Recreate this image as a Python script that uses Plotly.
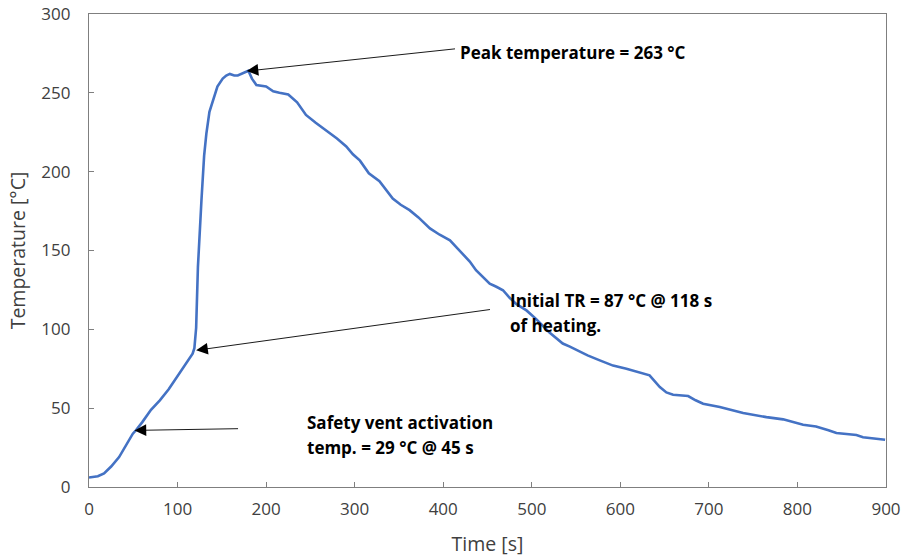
import plotly.graph_objects as go

# Time [s] and Temperature [°C]
time_s = [0, 10, 17, 25, 34, 42, 49.5, 53, 60, 70, 80, 90, 102, 110, 117, 119,
          121, 123, 125, 127, 130, 132.5, 136, 140, 145, 151, 155, 159, 164, 168,
          174, 180, 184, 189, 200, 208, 215, 225, 235, 245, 256, 268, 280, 290.5,
          298, 306, 316, 328, 336, 343, 352, 362, 372, 385, 396, 407.6, 415, 422,
          430, 437, 445, 452.5, 460, 467.5, 475, 482.7, 494, 505, 520, 535, 543,
          550, 563, 576.8, 591.8, 606.9, 620, 633, 644.6, 652, 659.6, 676.6, 685,
          693.5, 712.3, 738.7, 765, 783.8, 806.4, 821, 835, 844, 866.6, 874, 899]
temp_c = [6, 6.8, 8.6, 13, 19, 27, 33.8, 36, 41, 49, 55, 62, 72, 78, 84.6, 88,
          101, 139.5, 165, 182, 210, 224, 238, 245, 254, 259, 261, 262, 261, 261,
          262.5, 264, 259, 255, 254, 251, 250, 249, 244, 236, 231, 226, 221, 216,
          211, 207, 199, 194, 188, 183, 179, 175.6, 171, 164, 160, 156.5, 152, 148,
          143, 137.5, 133, 129, 127, 124.8, 120, 116, 112, 106.5, 98, 91, 89,
          87, 83.5, 80.3, 77, 75, 73, 70.8, 63.4, 60, 58.5, 57.7, 55,
          52.8, 50.7, 46.9, 44.3, 42.9, 39.5, 38.4, 36, 34.2, 33, 31.6, 30]

x_ticks = [0, 100, 200, 300, 400, 500, 600, 700, 800, 900]
y_ticks = [0, 50, 100, 150, 200, 250, 300]

# annotation: (tip_x, tip_y, tail_x, tail_y)
arrows = [
    (178, 263.8, 415, 278),
    (121, 86.7, 454.5, 112.7),
    (51.4, 35.9, 170, 37),
]
# text lines: (x_left, y_center, text)
labels = [
    (416.4, 275.9, "Peak temperature = 263 °C"),
    (472.9, 118.5, "Initial TR = 87 °C @ 118 s"),
    (472.9, 102.5, "of heating."),
    (243.5, 41.1, "Safety vent activation"),
    (243.5, 25.2, "temp. = 29 °C @ 45 s"),
]

FONT = "Open Sans"

fig = go.Figure()
fig.add_trace(go.Scatter(x=time_s, y=temp_c, mode="lines",
                         line=dict(color="#4472C4", width=2.6),
                         showlegend=False, hoverinfo="skip"))

annots = []
for tx, ty, ax, ay in arrows:
    annots.append(dict(x=tx, y=ty, ax=ax, ay=ay, xref="x", yref="y",
                       axref="x", ayref="y", text="", showarrow=True,
                       arrowhead=2, arrowsize=2.6, arrowwidth=0.9,
                       arrowcolor="black", standoff=0, startstandoff=0))
for lx, ly, txt in labels:
    annots.append(dict(x=lx, y=ly, xref="x", yref="y", text=txt,
                       showarrow=False, xanchor="left", yanchor="middle",
                       font=dict(family=FONT, size=17, color="black",
                                 weight="bold")))

axis_common = dict(showgrid=False, zeroline=False, showline=True,
                   linecolor="#7f7f7f", linewidth=1.3, mirror=True,
                   ticks="inside", ticklen=5, tickcolor="#7f7f7f",
                   tickwidth=1, automargin=False,
                   tickfont=dict(family=FONT, size=17, color="#404040"))

fig.update_layout(
    width=904, height=559,
    margin=dict(l=89, r=18, t=14, b=72),
    paper_bgcolor="white", plot_bgcolor="white",
    annotations=annots,
    xaxis=dict(range=[0, 900], tickvals=x_ticks,
               title=dict(text="Time [s]", standoff=18,
                          font=dict(family=FONT, size=19.5, color="#404040")),
               ticklabelstandoff=6, **axis_common),
    yaxis=dict(range=[0, 300], tickvals=y_ticks,
               title=dict(text="Temperature [°C]", standoff=10,
                          font=dict(family=FONT, size=19.5, color="#404040")),
               ticklabelstandoff=14, **axis_common),
)

fig.write_html("out.html")
